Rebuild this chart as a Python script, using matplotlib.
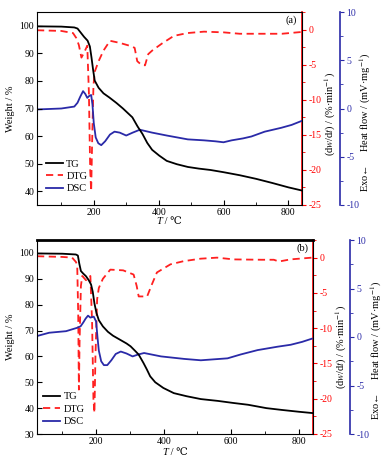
import matplotlib
matplotlib.use('Agg')
import matplotlib.pyplot as plt
from matplotlib.ticker import MultipleLocator
from matplotlib.offsetbox import TextArea, HPacker, AnchoredOffsetbox

plt.rcParams['font.family'] = ['Liberation Serif', 'DejaVu Serif']
plt.rcParams['mathtext.fontset'] = 'stix'
plt.rcParams['font.size'] = 7
plt.rcParams['axes.unicode_minus'] = False

# ---- panel (a) data ----
t_tg_a = [25, 100, 140, 150, 160, 170, 181, 188, 193, 198, 203, 215, 230, 248, 270, 290, 319, 335, 350, 365, 380, 402, 425, 456, 490, 524, 560, 600, 650, 700, 750, 800, 840]
tg_a = [99.8, 99.7, 99.4, 99.0, 97.5, 96.0, 94.6, 92.5, 88.5, 84.0, 80.1, 77.5, 75.5, 74.0, 72.0, 70.0, 66.8, 63.5, 60.8, 57.5, 55.0, 52.9, 51.0, 49.8, 48.8, 48.2, 47.7, 46.9, 45.8, 44.5, 43.0, 41.4, 40.3]

t_dtg_a = [25, 100, 136, 146, 154, 162, 170, 180, 185, 189, 192, 195, 199, 203, 215, 230, 250, 280, 310, 326, 334, 346, 358, 368, 380, 410, 447, 489, 540, 600, 650, 700, 780, 840]
dtg_a = [-0.1, -0.2, -0.5, -1.2, -2.2, -4.0, -3.3, -2.3, -9.0, -20.0, -23.0, -16.0, -8.0, -6.0, -4.5, -3.0, -1.6, -1.9, -2.3, -2.6, -4.5, -5.0, -5.1, -3.5, -3.0, -2.0, -0.9, -0.5, -0.3, -0.4, -0.6, -0.6, -0.6, -0.35]

t_dsc_a = [25, 100, 140, 150, 158, 167, 174, 180, 186, 192, 196, 200, 206, 214, 223, 235, 250, 264, 280, 300, 320, 342, 380, 425, 490, 540, 575, 600, 625, 660, 686, 727, 778, 810, 840]
dsc_a = [-0.1, 0.0, 0.2, 0.6, 1.2, 1.8, 1.5, 1.1, 1.3, 1.4, 0.4, -1.5, -3.0, -3.6, -3.8, -3.4, -2.7, -2.4, -2.5, -2.8, -2.5, -2.2, -2.5, -2.8, -3.2, -3.3, -3.4, -3.5, -3.3, -3.1, -2.9, -2.4, -2.0, -1.7, -1.3]

# ---- panel (b) data ----
t_tg_b = [25, 100, 140, 146, 150, 155, 162, 170, 178, 185, 190, 195, 201, 208, 220, 235, 250, 270, 290, 302, 315, 326, 340, 350, 360, 375, 399, 430, 468, 510, 560, 606, 650, 704, 750, 800, 840]
tg_b = [99.8, 99.7, 99.4, 99.0, 96.0, 93.0, 92.0, 91.0, 89.5, 87.8, 85.0, 80.5, 76.8, 74.0, 71.6, 69.5, 68.0, 66.5, 65.0, 63.9, 62.2, 60.7, 57.5, 55.0, 52.3, 50.0, 47.8, 45.8, 44.6, 43.5, 42.8, 42.0, 41.3, 40.0, 39.3, 38.6, 38.1]

t_dtg_b = [25, 100, 129, 140, 144, 147, 149, 151, 155, 159, 170, 183, 188, 192, 195, 198, 203, 208, 220, 242, 280, 311, 320, 326, 351, 365, 380, 420, 459, 509, 558, 607, 690, 726, 741, 775, 839]
dtg_b = [0.2, 0.1, 0.0, -0.6, -1.0, -8.0, -18.7, -12.0, -4.0, -2.6, -3.2, -2.6, -9.0, -20.0, -22.0, -14.0, -5.9, -4.3, -3.0, -1.7, -1.8, -2.4, -4.0, -5.5, -5.5, -3.8, -2.1, -0.95, -0.5, -0.15, 0.0, -0.25, -0.3, -0.3, -0.55, -0.25, 0.0]

t_dsc_b = [25, 61, 111, 144, 154, 162, 169, 176, 183, 193, 200, 204, 208, 215, 223, 233, 245, 258, 273, 290, 308, 325, 342, 392, 461, 510, 589, 628, 678, 737, 776, 810, 839]
dsc_b = [0.1, 0.44, 0.6, 0.95, 1.1, 1.5, 1.9, 2.2, 2.0, 2.1, 1.6, 0.0, -1.4, -2.5, -2.9, -2.9, -2.4, -1.75, -1.5, -1.7, -2.0, -1.8, -1.65, -2.0, -2.26, -2.4, -2.2, -1.8, -1.35, -1.0, -0.8, -0.5, -0.17]

fig = plt.figure(figsize=(3.84, 4.66), dpi=100)


def make_panel(rect, t_tg, tg, t_dtg, dtg, t_dsc, dsc, ylim, tag, blue_off, top_lw,
               xlab_y, leg_xy, red_y, blue_y):
    ax = fig.add_axes(rect)
    ax2 = ax.twinx()
    ax3 = ax.twinx()

    l1, = ax.plot(t_tg, tg, color='black', lw=1.3, label='TG')
    l2, = ax2.plot(t_dtg, dtg, color='#ff2020', lw=1.3, linestyle=(0, (4, 2.5)), label='DTG')
    l3, = ax3.plot(t_dsc, dsc, color='#2a2aa8', lw=1.3, label='DSC')

    ax.set_xlim(25, 842)
    ax.set_ylim(*ylim)
    ax2.set_ylim(-25, 2.5)
    ax3.set_ylim(-10, 10)

    ax.xaxis.set_major_locator(MultipleLocator(200))
    ax.xaxis.set_minor_locator(MultipleLocator(100))
    ax.yaxis.set_major_locator(MultipleLocator(10))
    ax.tick_params(axis='both', which='both', direction='in', right=False, top=False, pad=2)
    ax.tick_params(which='major', length=3.5)
    ax.tick_params(which='minor', length=2)

    # red DTG axis
    ax2.spines['right'].set_color('red')
    ax2.spines['right'].set_linewidth(1.2)
    ax2.yaxis.set_major_locator(MultipleLocator(5))
    ax2.yaxis.set_minor_locator(MultipleLocator(2.5))
    ax2.tick_params(axis='y', which='both', colors='red', direction='out', pad=1.5)
    ax2.tick_params(which='major', length=3)
    ax2.tick_params(which='minor', length=1.8)

    # blue DSC axis
    ax3.spines['right'].set_position(('outward', blue_off))
    ax3.spines['right'].set_color('#2a2aa8')
    ax3.spines['right'].set_linewidth(1.2)
    ax3.yaxis.set_major_locator(MultipleLocator(5))
    ax3.yaxis.set_minor_locator(MultipleLocator(2.5))
    ax3.tick_params(axis='y', which='both', colors='#2a2aa8', direction='out', pad=1.5)
    ax3.tick_params(which='major', length=3)
    ax3.tick_params(which='minor', length=1.8)
    for a in (ax2, ax3):
        for s in ('left', 'top', 'bottom'):
            a.spines[s].set_visible(False)
    ax.spines['top'].set_linewidth(top_lw)

    # x label: italic T followed by " / ℃"
    lab = HPacker(children=[TextArea('T', textprops=dict(style='italic', size=7.5)),
                            TextArea(' / ℃', textprops=dict(size=7.5))],
                  align='baseline', pad=0, sep=0)
    box = AnchoredOffsetbox(loc='upper center', child=lab, pad=0, borderpad=0, frameon=False,
                            bbox_to_anchor=(0.5, xlab_y), bbox_transform=ax.transAxes)
    ax.add_artist(box)

    ax.set_ylabel('Weight / %', fontsize=7.5, labelpad=3)
    ax2.set_ylabel(r'(d$w$/d$t$) / (%·min$^{-1}$)', fontsize=7.5, color='black')
    ax3.set_ylabel(r'Exo←     Heat flow / (mV·mg$^{-1}$)', fontsize=7.5, color='black')
    w = rect[2] * 384
    ax2.yaxis.set_label_coords(1 + 21 / w, red_y)
    ax3.yaxis.set_label_coords(1 + 56 / w, blue_y)

    ax.text(0.982, 0.985, tag, transform=ax.transAxes, ha='right', va='top', fontsize=7.5)
    ax.legend(handles=[l1, l2, l3], loc='lower left', bbox_to_anchor=leg_xy,
              frameon=False, handlelength=1.6, handletextpad=0.35, labelspacing=0.3,
              borderaxespad=0, borderpad=0, fontsize=7.5)
    ax.set_zorder(ax3.get_zorder() + 1)
    ax.patch.set_visible(False)
    return ax


make_panel([37 / 384, 1 - 205 / 466, 265 / 384, 193 / 466],
           t_tg_a, tg_a, t_dtg_a, dtg_a, t_dsc_a, dsc_a, (35, 105), '(a)', 27.4, 0.8,
           -0.06, (0.034, 0.06), 0.47, 0.43)
make_panel([37 / 384, 1 - 434 / 466, 276 / 384, 194 / 466],
           t_tg_b, tg_b, t_dtg_b, dtg_b, t_dsc_b, dsc_b, (30, 105), '(b)', 26.6, 2.0,
           -0.072, (0.022, 0.04), 0.45, 0.43)

fig.savefig('out.png', dpi=100)
